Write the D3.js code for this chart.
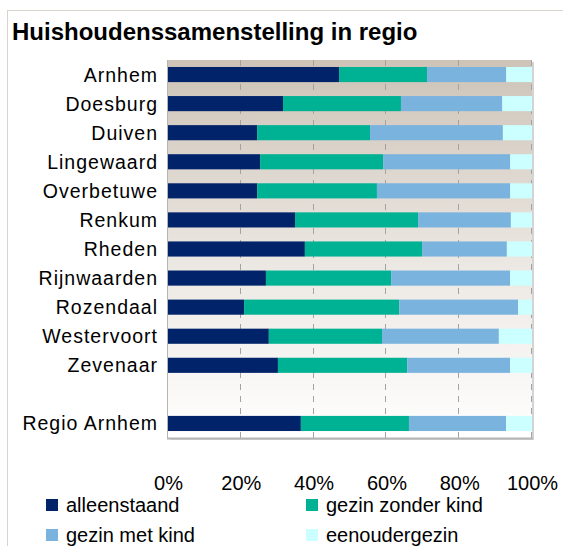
<!DOCTYPE html>
<html>
<head>
<meta charset="utf-8">
<script src="https://cdn.jsdelivr.net/npm/d3@7"></script>
<style>
	body { margin: 0; background: #fff; }
	svg { display: block; font-family: "Liberation Sans", Arial, sans-serif; }
</style>
</head>
<body>
<div id="chart"></div>
<script>

// data
// ----------------------------------------

var categories = ["Arnhem", "Doesburg", "Duiven", "Lingewaard", "Overbetuwe", "Renkum", "Rheden",
	"Rijnwaarden", "Rozendaal", "Westervoort", "Zevenaar", "", "Regio Arnhem"];

var series = ["alleenstaand", "gezin zonder kind", "gezin met kind", "eenoudergezin"];

var alleenstaand   = [47.0, 31.6, 24.5, 25.3, 24.5, 34.9, 37.6, 26.9, 20.9, 27.7, 30.2, null, 36.5];
var gezin_zonder   = [24.2, 32.4, 31.0, 33.8, 32.9, 33.8, 32.2, 34.4, 42.6, 31.1, 35.5, null, 29.7];
var gezin_met      = [21.7, 27.8, 36.5, 34.9, 36.6, 25.5, 23.3, 32.7, 32.7, 32.1, 28.3, null, 26.7];
var eenoudergezin  = [ 7.1,  8.2,  8.0,  6.0,  6.0,  5.8,  6.9,  6.0,  3.8,  9.1,  6.0, null,  7.1];

var tick_values = [0, 0.2, 0.4, 0.6, 0.8, 1];

var colors = ["#00236a", "#00b294", "#7bb3df", "#ccffff"];

// main variables
// ----------------------------------------

var width = 563,
	height = 546;

var plot_box = {left: 168, right: 532, top: 60, bottom: 438};

var svg = d3.select("#chart")
	.append("svg")
	.attr("width", width)
	.attr("height", height);

// background gradient of the plot area
var defs = svg.append("defs");
var grad = defs.append("linearGradient")
	.attr("id", "bg_grad")
	.attr("x1", 0).attr("y1", 0)
	.attr("x2", 0).attr("y2", 1);
grad.append("stop").attr("offset", "0%").attr("stop-color", "#cdc3b7");
grad.append("stop").attr("offset", "55%").attr("stop-color", "#ece8e3");
grad.append("stop").attr("offset", "100%").attr("stop-color", "#ffffff");

// outer frame
svg.append("rect")
	.attr("x", 7.5)
	.attr("y", 10.5)
	.attr("width", width)
	.attr("height", height)
	.attr("fill", "#fff")
	.attr("stroke", "#d8d3cc")
	.attr("stroke-width", 1);

svg.append("text")
	.attr("x", 12)
	.attr("y", 40)
	.attr("font-size", "24px")
	.attr("font-weight", "bold")
	.attr("fill", "#000")
	.text("Huishoudenssamenstelling in regio");

// scales
// ----------------------------------------

var x = d3.scaleLinear()
	.domain([0, 1])
	.range([plot_box.left, plot_box.right]);

var y = d3.scaleBand()
	.domain(categories.map(function(d, i){ return i; }))
	.range([plot_box.top, plot_box.bottom])
	.paddingInner(0.48)
	.paddingOuter(0.24);

// plot background, shadow, grid
svg.append("rect")
	.attr("x", plot_box.left + 2)
	.attr("y", plot_box.top + 2)
	.attr("width", plot_box.right - plot_box.left)
	.attr("height", plot_box.bottom - plot_box.top)
	.attr("fill", "#d4d4d4");

svg.append("rect")
	.attr("x", plot_box.left)
	.attr("y", plot_box.top)
	.attr("width", plot_box.right - plot_box.left)
	.attr("height", plot_box.bottom - plot_box.top)
	.attr("fill", "url(#bg_grad)");

svg.append("g")
	.attr("class", "grid")
	.selectAll("line")
	.data(tick_values.slice(1))
	.enter()
	.append("line")
	.attr("x1", function(d){ return Math.round(x(d)) - 0.5; })
	.attr("x2", function(d){ return Math.round(x(d)) - 0.5; })
	.attr("y1", plot_box.top)
	.attr("y2", plot_box.bottom)
	.attr("stroke", "#a3a3a3")
	.attr("stroke-width", 1)
	.attr("stroke-dasharray", "6,6");

// bars
// ----------------------------------------

var table = categories.map(function(c, i){
	return {
		idx: i,
		name: c,
		"alleenstaand": alleenstaand[i],
		"gezin zonder kind": gezin_zonder[i],
		"gezin met kind": gezin_met[i],
		"eenoudergezin": eenoudergezin[i]
	};
}).filter(function(d){ return d.alleenstaand != null; });

// normalise every row to 100%
table.forEach(function(d){
	var tot = d3.sum(series, function(s){ return d[s]; });
	series.forEach(function(s){ d[s] = d[s] / tot; });
});

var stacked = d3.stack().keys(series)(table);

var layers = svg.append("g")
	.attr("class", "bars")
	.selectAll("g")
	.data(stacked)
	.enter()
	.append("g")
	.attr("fill", function(d, i){ return colors[i]; });

layers.selectAll("rect")
	.data(function(d){ return d; })
	.enter()
	.append("rect")
	.attr("x", function(d){ return x(d[0]); })
	.attr("width", function(d){ return x(d[1]) - x(d[0]); })
	.attr("y", function(d){ return y(d.data.idx); })
	.attr("height", y.bandwidth());

// axis lines
svg.append("line")
	.attr("x1", plot_box.left - 0.5).attr("x2", plot_box.left - 0.5)
	.attr("y1", plot_box.top).attr("y2", plot_box.bottom + 1)
	.attr("stroke", "#b5b5b5");

svg.append("line")
	.attr("x1", plot_box.left - 1).attr("x2", plot_box.right + 1)
	.attr("y1", plot_box.bottom + 0.5).attr("y2", plot_box.bottom + 0.5)
	.attr("stroke", "#b5b5b5")
	.attr("stroke-width", 2);

// category labels
svg.append("g")
	.attr("class", "labels")
	.selectAll("text")
	.data(categories)
	.enter()
	.append("text")
	.attr("x", 158)
	.attr("y", function(d, i){ return y(i) + y.bandwidth() / 2 + 7; })
	.attr("text-anchor", "end")
	.attr("font-size", "19.5px")
	.attr("letter-spacing", "1px")
	.attr("fill", "#000")
	.text(function(d){ return d; });

// x axis labels
var x_axis = svg.append("g")
	.attr("transform", "translate(0," + plot_box.bottom + ")")
	.call(d3.axisBottom(x)
		.tickValues(tick_values)
		.tickFormat(d3.format(".0%"))
		.tickSize(0)
		.tickPadding(38));

x_axis.select(".domain").remove();
x_axis.selectAll("text")
	.attr("font-size", "20px")
	.attr("font-family", "Liberation Sans, Arial, sans-serif")
	.attr("fill", "#000");

// legend
// ----------------------------------------

var legend_pos = [
	{x: 46, y: 505}, {x: 306, y: 505},
	{x: 46, y: 535}, {x: 306, y: 535}
];

var legend = svg.append("g")
	.attr("class", "legend")
	.selectAll("g")
	.data(series)
	.enter()
	.append("g")
	.attr("transform", function(d, i){
		return "translate(" + legend_pos[i].x + "," + legend_pos[i].y + ")";
	});

legend.append("rect")
	.attr("x", 0)
	.attr("y", -6)
	.attr("width", 12)
	.attr("height", 12)
	.attr("fill", function(d, i){ return colors[i]; });

legend.append("text")
	.attr("x", 20)
	.attr("y", 7)
	.attr("font-size", "20px")
	.attr("fill", "#000")
	.text(function(d){ return d; });

</script>
</body>
</html>
